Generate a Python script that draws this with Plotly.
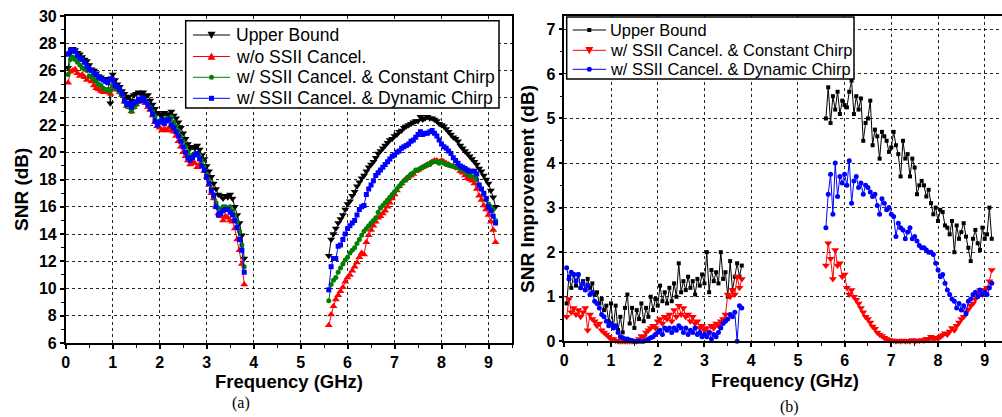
import plotly.graph_objects as go

# ---------------- data ----------------
freq_lo = [0.05, 0.10, 0.15, 0.20, 0.25, 0.30, 0.35, 0.40, 0.45, 0.50,
           0.55, 0.60, 0.65, 0.70, 0.75, 0.80, 0.85, 0.90, 0.95, 1.00,
           1.05, 1.10, 1.15, 1.20, 1.25, 1.30, 1.35, 1.40, 1.45, 1.50,
           1.55, 1.60, 1.65, 1.70, 1.75, 1.80, 1.85, 1.90, 1.95, 2.00,
           2.05, 2.10, 2.15, 2.20, 2.25, 2.30, 2.35, 2.40, 2.45, 2.50,
           2.55, 2.60, 2.65, 2.70, 2.75, 2.80, 2.85, 2.90, 2.95, 3.00,
           3.05, 3.10, 3.15, 3.20, 3.25, 3.30, 3.35, 3.40, 3.45, 3.50,
           3.55, 3.60, 3.65, 3.70, 3.75, 3.80]
freq_hi = [5.60, 5.65, 5.70, 5.75, 5.80, 5.85, 5.90, 5.95, 6.00, 6.05,
           6.10, 6.15, 6.20, 6.25, 6.30, 6.35, 6.40, 6.45, 6.50, 6.55,
           6.60, 6.65, 6.70, 6.75, 6.80, 6.85, 6.90, 6.95, 7.00, 7.05,
           7.10, 7.15, 7.20, 7.25, 7.30, 7.35, 7.40, 7.45, 7.50, 7.55,
           7.60, 7.65, 7.70, 7.75, 7.80, 7.85, 7.90, 7.95, 8.00, 8.05,
           8.10, 8.15, 8.20, 8.25, 8.30, 8.35, 8.40, 8.45, 8.50, 8.55,
           8.60, 8.65, 8.70, 8.75, 8.80, 8.85, 8.90, 8.95, 9.00, 9.05,
           9.10, 9.15]

# (a) SNR (dB)
snr_ub_lo = [26.2, 27.3, 27.6, 27.5, 27.3, 27.2, 27.0, 26.8, 26.7, 26.4,
             26.1, 26.0, 25.8, 25.6, 25.5, 25.4, 25.3, 25.4, 23.6, 25.7,
             25.3, 25.0, 24.8, 24.5, 24.3, 24.0, 24.1, 23.8, 24.2, 24.3,
             24.4, 24.3, 24.4, 24.1, 24.2, 23.8, 23.5, 23.2, 22.9, 22.8,
             22.7, 22.9, 22.8, 22.7, 23.0, 22.7, 22.5, 22.2, 21.8, 21.4,
             21.0, 20.6, 20.3, 20.4, 20.3, 20.5, 20.2, 19.8, 19.5, 19.0,
             18.6, 18.2, 17.7, 17.3, 16.9, 16.8, 16.6, 16.8, 16.7, 16.9,
             16.6, 16.0, 15.4, 14.8, 13.9, 12.2]
snr_ub_hi = [12.4, 13.6, 14.0, 14.4, 14.8, 15.1, 15.4, 15.8, 16.2, 16.4,
             16.8, 17.1, 17.5, 17.8, 18.1, 18.3, 18.6, 18.9, 19.1, 19.3,
             19.6, 19.9, 20.1, 20.3, 20.5, 20.7, 20.9, 21.0, 21.2, 21.3,
             21.5, 21.6, 21.8, 21.9, 22.0, 22.1, 22.2, 22.3, 22.3, 22.6,
             22.4, 22.5, 22.6, 22.5, 22.5, 22.4, 22.3, 22.1, 22.0, 21.9,
             21.7, 21.5, 21.3, 21.1, 21.0, 20.8, 20.5, 20.3, 20.1, 19.9,
             19.7, 19.5, 19.3, 19.1, 18.8, 18.6, 18.3, 18.0, 17.7, 17.2,
             16.7, 16.0]

snr_wo_lo = [25.1, 25.9, 26.0, 26.1, 25.8, 25.6, 25.7, 25.5, 25.3, 25.5,
             25.2, 24.9, 24.7, 24.6, 24.5, 24.4, 24.4, 24.4, 24.3, 24.8,
             24.6, 24.6, 24.4, 24.2, 23.7, 23.4, 23.3, 23.0, 23.3, 23.5,
             23.7, 23.7, 23.8, 23.6, 23.3, 23.1, 22.7, 22.2, 21.9, 21.8,
             21.6, 21.7, 21.6, 21.8, 21.6, 21.5, 21.2, 20.8, 20.4, 20.0,
             19.7, 19.4, 19.1, 19.3, 19.2, 18.9, 19.1, 19.0, 18.6, 18.2,
             17.6, 17.0, 16.6, 16.0, 15.5, 15.3, 15.0, 15.3, 15.2, 15.0,
             14.9, 14.4, 13.6, 12.8, 11.8, 10.3]
snr_wo_hi = [7.3, 8.1, 8.7, 9.2, 9.5, 9.8, 10.1, 10.5, 10.8, 11.0,
             11.3, 11.6, 11.9, 12.3, 12.6, 12.5, 13.4, 13.9, 14.3, 14.6,
             14.9, 15.2, 15.3, 15.5, 15.7, 16.0, 16.3, 16.6, 16.9, 17.2,
             17.5, 17.7, 17.9, 18.1, 18.2, 18.3, 18.4, 18.6, 18.7, 18.8,
             18.9, 19.0, 19.1, 19.2, 19.3, 19.4, 19.4, 19.3, 19.4, 19.3,
             19.2, 19.1, 19.0, 19.0, 18.9, 18.8, 18.6, 18.5, 18.3, 18.1,
             18.0, 17.9, 17.7, 17.3, 16.8, 16.5, 16.1, 15.8, 15.4, 14.9,
             14.3, 13.4]

snr_const_lo = [25.7, 26.8, 27.0, 26.8, 26.6, 26.4, 26.2, 26.1, 26.0, 25.6,
                25.6, 25.4, 25.2, 25.0, 24.9, 24.7, 24.6, 24.6, 24.5, 24.9,
                24.7, 24.6, 24.4, 24.2, 23.7, 23.4, 23.3, 23.0, 23.3, 23.5,
                23.7, 23.8, 23.9, 23.7, 23.5, 23.3, 23.0, 22.6, 22.2, 22.3,
                22.4, 22.3, 22.5, 22.4, 22.6, 22.2, 21.9, 21.6, 21.2, 20.8,
                20.4, 20.0, 19.7, 19.8, 19.9, 19.9, 19.8, 19.4, 18.9, 18.4,
                17.9, 17.3, 16.9, 16.3, 15.9, 15.8, 16.0, 16.0, 15.9, 16.0,
                15.7, 15.4, 14.9, 14.2, 13.2, 11.6]
snr_const_hi = [9.1, 10.3, 10.6, 10.8, 11.2, 11.5, 11.8, 12.1, 12.3, 12.6,
                12.8, 13.0, 13.3, 13.6, 13.9, 14.2, 14.4, 14.6, 14.8, 15.0,
                15.2, 15.6, 15.9, 16.1, 16.3, 16.5, 16.7, 16.9, 17.1, 17.3,
                17.5, 17.7, 17.9, 18.0, 18.2, 18.4, 18.5, 18.7, 18.7, 18.8,
                18.9, 19.0, 19.1, 19.1, 19.3, 19.3, 19.3, 19.2, 19.3, 19.2,
                19.1, 19.1, 19.0, 19.0, 18.9, 18.9, 18.8, 18.7, 18.6, 18.4,
                18.3, 18.2, 18.2, 18.0, 17.6, 17.3, 16.9, 16.5, 16.2, 16.0,
                15.8, 15.0]

snr_dyn_lo = [27.2, 27.5, 27.5, 27.4, 27.1, 26.9, 26.8, 26.6, 26.3, 26.1,
              26.0, 25.8, 25.7, 25.5, 25.4, 25.3, 25.2, 25.1, 25.4, 25.3,
              24.9, 24.8, 24.6, 24.3, 23.8, 23.5, 23.6, 23.3, 23.6, 23.7,
              23.9, 23.8, 24.0, 23.7, 23.5, 23.2, 22.8, 22.3, 22.0, 22.2,
              22.4, 22.1, 22.3, 22.4, 22.0, 21.8, 21.5, 21.2, 20.8, 20.4,
              20.0, 19.6, 19.4, 19.6, 19.8, 19.9, 19.5, 19.0, 18.7, 18.2,
              17.7, 17.2, 16.8, 16.0, 15.4, 15.5, 15.7, 15.8, 15.8, 15.6,
              15.4, 15.0, 14.5, 13.6, 12.8, 11.2]
snr_dyn_hi = [9.9, 11.6, 12.2, 12.2, 13.1, 13.2, 13.6, 14.0, 14.4, 14.6,
              14.8, 15.0, 15.4, 15.8, 16.0, 16.1, 16.9, 17.3, 17.6, 17.9,
              18.3, 18.5, 18.7, 18.9, 19.1, 19.3, 19.5, 19.7, 19.8, 20.0,
              20.1, 20.3, 20.4, 20.5, 20.6, 20.8, 20.9, 21.1, 21.3, 21.5,
              21.3, 21.4, 21.4, 21.5, 21.6, 21.4, 21.2, 20.9, 20.6, 20.4,
              20.3, 20.1, 19.9, 19.6, 19.4, 19.2, 19.0, 18.9, 18.8, 18.7,
              18.6, 18.6, 18.6, 18.4, 17.6, 17.3, 17.0, 16.6, 16.0, 15.7,
              15.3, 14.8]

# (b) SNR improvement (dB)
imp_ub_lo = [0.85, 1.45, 1.2, 1.5, 1.25, 1.5, 1.2, 1.35, 1.15, 1.4,
             1.2, 1.3, 1.05, 1.1, 0.85, 0.95, 0.7, 0.8, 0.45, 0.85,
             0.3, 0.8, 0.25, 0.55, 0.2, 0.75, 1.05, 0.4, 0.75, 0.3,
             0.7, 0.5, 0.85, 0.45, 0.75, 0.55, 1.0, 0.7, 0.95, 0.8,
             1.25, 0.9, 1.1, 0.85, 1.2, 0.9, 1.3, 1.0, 1.75, 1.1,
             1.35, 1.15, 1.45, 1.2, 1.35, 1.05, 1.4, 1.25, 1.5, 1.3,
             2.0, 1.1, 1.6, 1.35, 1.55, 1.3, 2.0, 1.4, 1.55, 1.0,
             1.8, 1.15, 1.45, 1.75, 1.45, 1.7]
imp_ub_hi = [5.0, 5.7, 4.9, 5.5, 5.2, 5.6, 5.1, 5.4, 5.3, 5.25,
             5.6, 5.85, 5.1, 5.5, 5.2, 5.45, 4.5, 4.9, 5.0, 5.4,
             4.4, 4.75, 4.6, 4.1, 4.7, 4.6, 4.5, 4.25, 4.35, 4.7,
             4.4, 4.2, 3.7, 4.5, 4.1, 4.2, 3.7, 4.1, 3.9, 3.3,
             3.5, 3.6, 3.5, 3.25, 3.4, 3.1, 2.85, 3.0, 2.7, 2.95,
             2.9, 2.6, 2.55, 2.4, 2.7, 2.0, 2.6, 2.3, 2.45, 2.65,
             2.35, 2.1, 1.8, 2.3, 2.5, 2.2, 2.05, 2.55, 2.3, 2.4,
             3.0, 2.3]

imp_const_lo = [0.55, 0.95, 0.65, 0.75, 0.6, 0.7, 0.55, 0.65, 0.75, 0.25,
                0.6, 0.5, 0.45, 0.35, 0.4, 0.25, 0.2, 0.15, 0.1, 0.05,
                0.05, 0.02, 0.0, 0.0, 0.0, 0.0, 0.0, 0.0, 0.0, 0.0,
                0.0, 0.05, 0.12, 0.1, 0.2, 0.25, 0.3, 0.35, 0.3, 0.45,
                0.5, 0.4, 0.55, 0.5, 0.6, 0.45, 0.7, 0.55, 0.8, 0.6,
                0.75, 0.55, 0.6, 0.45, 0.55, 0.4, 0.45, 0.3, 0.35, 0.25,
                0.3, 0.2, 0.35, 0.3, 0.4, 0.35, 0.45, 0.5, 0.6, 1.05,
                1.0, 1.15, 1.05, 1.45, 1.2, 1.4]
imp_const_hi = [1.7, 2.2, 1.85, 1.4, 2.05, 1.7, 1.75, 1.45, 1.5, 1.2,
                1.05, 1.15, 1.0, 0.93, 0.85, 0.75, 0.65, 0.55, 0.5, 0.42,
                0.33, 0.28, 0.2, 0.15, 0.12, 0.08, 0.05, 0.03, 0.02, 0.02,
                0.0, 0.01, 0.0, 0.02, 0.0, 0.01, 0.0, 0.03, 0.0, 0.02,
                0.01, 0.03, 0.02, 0.06, 0.03, 0.1, 0.05, 0.08, 0.06, 0.1,
                0.14, 0.18, 0.15, 0.22, 0.3, 0.25, 0.35, 0.42, 0.5, 0.55,
                0.65, 0.72, 0.8, 0.85, 0.95, 1.05, 1.15, 1.05, 1.15, 1.2,
                1.35, 1.6]

imp_dyn_lo = [1.65, 1.4, 1.55, 1.5, 1.35, 1.5, 1.2, 1.3, 1.15, 1.25,
              1.05, 1.1, 0.9, 0.85, 0.75, 0.6, 0.55, 0.45, 0.35, 0.4,
              0.3, 0.35, 0.2, 0.1, 0.08, 0.05, 0.05, 0.03, 0.02, 0.0,
              0.0, 0.0, 0.0, 0.0, 0.02, 0.05, 0.08, 0.1, 0.15, 0.2,
              0.25, 0.15, 0.3, 0.25, 0.3, 0.2, 0.3, 0.25, 0.35, 0.3,
              0.2, 0.3, 0.15, 0.25, 0.2, 0.3, 0.15, 0.2, 0.1, 0.15,
              0.1, 0.2, 0.05, 0.15, 0.1, 0.2, 0.3, 0.4, 0.45, 0.5,
              0.6, 0.55, 0.65, 0.0, 0.8, 0.75]
imp_dyn_hi = [2.55, 3.3, 3.75, 2.85, 4.0, 3.25, 3.7, 3.55, 3.75, 3.5,
              4.05, 3.1, 3.6, 3.7, 3.45, 3.55, 3.3, 3.5, 3.45, 3.35,
              3.25, 3.3, 3.05, 2.85, 3.2, 3.1, 2.95, 3.0, 2.85, 2.8,
              2.35, 2.65, 2.55, 2.5, 2.3, 2.45, 2.55, 2.3, 2.35, 2.25,
              2.15, 2.1, 2.1, 2.05, 2.0, 2.0, 1.95, 1.75, 1.6, 1.45,
              1.5, 1.3, 1.15, 1.05, 0.95, 0.9, 0.75, 0.85, 0.7, 0.8,
              0.62, 0.9, 0.95, 1.05, 1.1, 1.0, 1.15, 1.05, 1.1, 1.05,
              1.2, 1.3]

names_a = ["Upper Bound", "w/o SSII Cancel.",
           "w/ SSII Cancel. & Constant Chirp", "w/ SSII Cancel. & Dynamic Chirp"]
names_b = ["Upper Bound", "w/ SSII Cancel. & Constant Chirp",
           "w/ SSII Cancel. & Dynamic Chirp"]

# ---------------- figure ----------------
W, H = 1002, 417
FONT = "Arial, Liberation Sans, sans-serif"
SERIF = "Liberation Serif, Times New Roman, serif"


def join(lo, hi):
    return lo + [None] + hi


def px(x):
    return x / W


def py(y):
    return 1 - y / H


x_all = join(freq_lo, freq_hi)
fig = go.Figure()

style_a = [("black", "triangle-down", 7, 8), ("#ff0000", "triangle-up", 7, 8),
           ("#008000", "circle", 5, 5), ("#0000ff", "square", 5, 5)]
data_a = [(snr_ub_lo, snr_ub_hi), (snr_wo_lo, snr_wo_hi),
          (snr_const_lo, snr_const_hi), (snr_dyn_lo, snr_dyn_hi)]
for (lo, hi), (col, sym, sz, _), nm in zip(data_a, style_a, names_a):
    fig.add_trace(go.Scatter(
        x=x_all, y=join(lo, hi), name=nm, mode="lines+markers",
        line=dict(color=col, width=1), connectgaps=False, showlegend=False,
        marker=dict(symbol=sym, size=sz, color=col, line=dict(width=0)),
        xaxis="x", yaxis="y"))

style_b = [("black", "square", 4, 4), ("#ff0000", "triangle-down", 7, 8),
           ("#0000ff", "circle", 5, 5)]
data_b = [(imp_ub_lo, imp_ub_hi), (imp_const_lo, imp_const_hi),
          (imp_dyn_lo, imp_dyn_hi)]
for (lo, hi), (col, sym, sz, _), nm in zip(data_b, style_b, names_b):
    fig.add_trace(go.Scatter(
        x=x_all, y=join(lo, hi), name=nm, mode="lines+markers",
        line=dict(color=col, width=1), connectgaps=False, cliponaxis=False,
        showlegend=False,
        marker=dict(symbol=sym, size=sz, color=col, line=dict(width=0)),
        xaxis="x2", yaxis="y2"))

axis_common = dict(
    showline=True, linecolor="black", linewidth=1.5, mirror=True,
    ticks="outside", ticklen=4, tickwidth=1.5, tickcolor="black",
    showgrid=True, gridcolor="rgba(0,0,0,0.85)", griddash="dot", gridwidth=1,
    zeroline=False, automargin=False,
    tickfont=dict(family=FONT, size=16, color="black", weight="bold"),
)


def minor(d):
    return dict(ticks="outside", ticklen=3, tickwidth=1, tickcolor="black",
                dtick=d, tick0=0, showgrid=False)


fig.update_layout(
    width=W, height=H, autosize=False,
    margin=dict(l=0, r=0, t=0, b=0, autoexpand=False),
    paper_bgcolor="white", plot_bgcolor="white", showlegend=False,
    xaxis=dict(domain=[px(65.7), px(512)], range=[0, 9.5], dtick=1, tick0=0,
               anchor="y", minor=minor(0.5), **axis_common),
    yaxis=dict(domain=[py(343), py(16)], range=[6, 30], dtick=2, tick0=0,
               anchor="x", minor=minor(1), **axis_common),
    xaxis2=dict(domain=[px(564.3), 1.0], range=[0, 9.37], dtick=1, tick0=0,
                anchor="y2", minor=minor(0.5), **axis_common),
    yaxis2=dict(domain=[py(341.3), py(16)], range=[0, 7.3], dtick=1, tick0=0,
                anchor="x2", minor=minor(0.5), **axis_common),
)

# ---------------- legends (drawn boxes, samples and labels) ----------------
def marker_shape(sym, cx, cy, s, col):
    h = s / 2.0
    base = dict(xref="paper", yref="paper", fillcolor=col,
                line=dict(width=0), layer="above")
    if sym == "circle":
        return dict(type="circle", x0=px(cx - h), x1=px(cx + h),
                    y0=py(cy + h), y1=py(cy - h), **base)
    if sym == "square":
        return dict(type="rect", x0=px(cx - h), x1=px(cx + h),
                    y0=py(cy + h), y1=py(cy - h), **base)
    if sym == "triangle-up":
        pts = [(cx - h, cy + h * 0.8), (cx + h, cy + h * 0.8), (cx, cy - h * 1.0)]
    else:
        pts = [(cx - h, cy - h * 0.8), (cx + h, cy - h * 0.8), (cx, cy + h * 1.0)]
    path = "M " + " L ".join(f"{px(a):.5f},{py(b):.5f}" for a, b in pts) + " Z"
    return dict(type="path", path=path, **base)


legends = [
    dict(box=(185.7, 20.7, 499, 108), rows=[35, 56.5, 77.3, 98.3],
         line_x=(193, 230), mark_x=211.5, text_x=234.5, size=17.5,
         names=names_a, styles=style_a),
    dict(box=(566.7, 17, 854, 79), rows=[30, 50.3, 69.3],
         line_x=(572.7, 606), mark_x=589.3, text_x=608.5, size=16.4,
         names=names_b, styles=style_b),
]
for lg in legends:
    x0, y0, x1, y1 = lg["box"]
    fig.add_shape(type="rect", xref="paper", yref="paper",
                  x0=px(x0), x1=px(x1), y0=py(y1), y1=py(y0),
                  fillcolor="white", line=dict(color="black", width=1.5),
                  layer="above")
    for cy, nm, (col, sym, _, lsz) in zip(lg["rows"], lg["names"], lg["styles"]):
        fig.add_shape(type="line", xref="paper", yref="paper",
                      x0=px(lg["line_x"][0]), x1=px(lg["line_x"][1]),
                      y0=py(cy), y1=py(cy), line=dict(color=col, width=1),
                      layer="above")
        fig.add_shape(marker_shape(sym, lg["mark_x"], cy, lsz, col))
        fig.add_annotation(text=nm, x=px(lg["text_x"]), y=py(cy),
                           xref="paper", yref="paper", xanchor="left",
                           yanchor="middle", showarrow=False, borderpad=0,
                           font=dict(family=FONT, size=lg["size"], color="black"))

ann = [
    dict(text="SNR (dB)", x=21, y=190, angle=-90, size=19, fam=FONT, bold=True),
    dict(text="SNR Improvement (dB)", x=527, y=189, angle=-90, size=19, fam=FONT, bold=True),
    dict(text="Frequency (GHz)", x=289, y=381, angle=0, size=18.5, fam=FONT, bold=True),
    dict(text="Frequency (GHz)", x=785, y=380, angle=0, size=18.5, fam=FONT, bold=True),
    dict(text="(a)", x=241, y=403, angle=0, size=16, fam=SERIF, bold=False),
    dict(text="(b)", x=789, y=407, angle=0, size=16, fam=SERIF, bold=False),
]
for a in ann:
    fig.add_annotation(
        text=a["text"], x=px(a["x"]), y=py(a["y"]), xref="paper", yref="paper",
        xanchor="center", yanchor="middle", showarrow=False, textangle=a["angle"],
        borderpad=0,
        font=dict(family=a["fam"], size=a["size"], color="black",
                  weight="bold" if a["bold"] else "normal"))

fig.write_html(
    "out.html",
    config={"displayModeBar": False},
    post_script="document.body.style.margin='0px';"
                "document.body.style.overflow='hidden';",
)
